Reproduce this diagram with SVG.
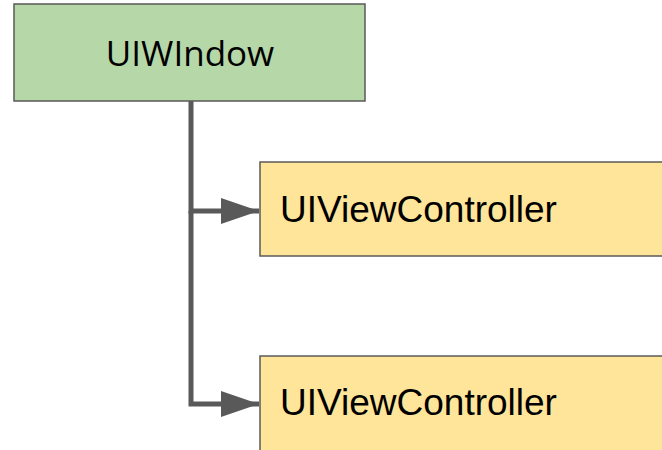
<svg xmlns="http://www.w3.org/2000/svg" width="662" height="450" viewBox="0 0 662 450">
<defs>
<style>
.box{stroke:#595959;stroke-width:1.5}
.lbl{font-family:"Liberation Sans",Arial,sans-serif;font-size:37px;fill:#000}
.conn{fill:none;stroke:#595959;stroke-width:5}
</style>
<marker id="arr" markerUnits="userSpaceOnUse" markerWidth="40" markerHeight="30" refX="38" refY="13" orient="auto">
<path d="M0,0 L38,13 L0,26 Z" fill="#595959"/>
</marker>
</defs>
<g id="connectors">
<path class="conn" d="M191,101 V211 H259" marker-end="url(#arr)"/>
<path class="conn" d="M191,211 V404 H259" marker-end="url(#arr)"/>
</g>
<g id="uiwindow">
<rect class="box" x="14" y="4" width="351" height="97" fill="#b6d7a8"/>
<text x="190" y="66" text-anchor="middle" style="font-family:'Open Sans','Noto Sans',sans-serif;font-size:35px">UIWIndow</text>
</g>
<g id="vc1">
<rect class="box" x="260" y="162" width="410" height="94" fill="#ffe599"/>
<text class="lbl" x="280" y="222">UIViewController</text>
</g>
<g id="vc2">
<rect class="box" x="260" y="356" width="410" height="100" fill="#ffe599"/>
<text class="lbl" x="280" y="415">UIViewController</text>
</g>
</svg>
